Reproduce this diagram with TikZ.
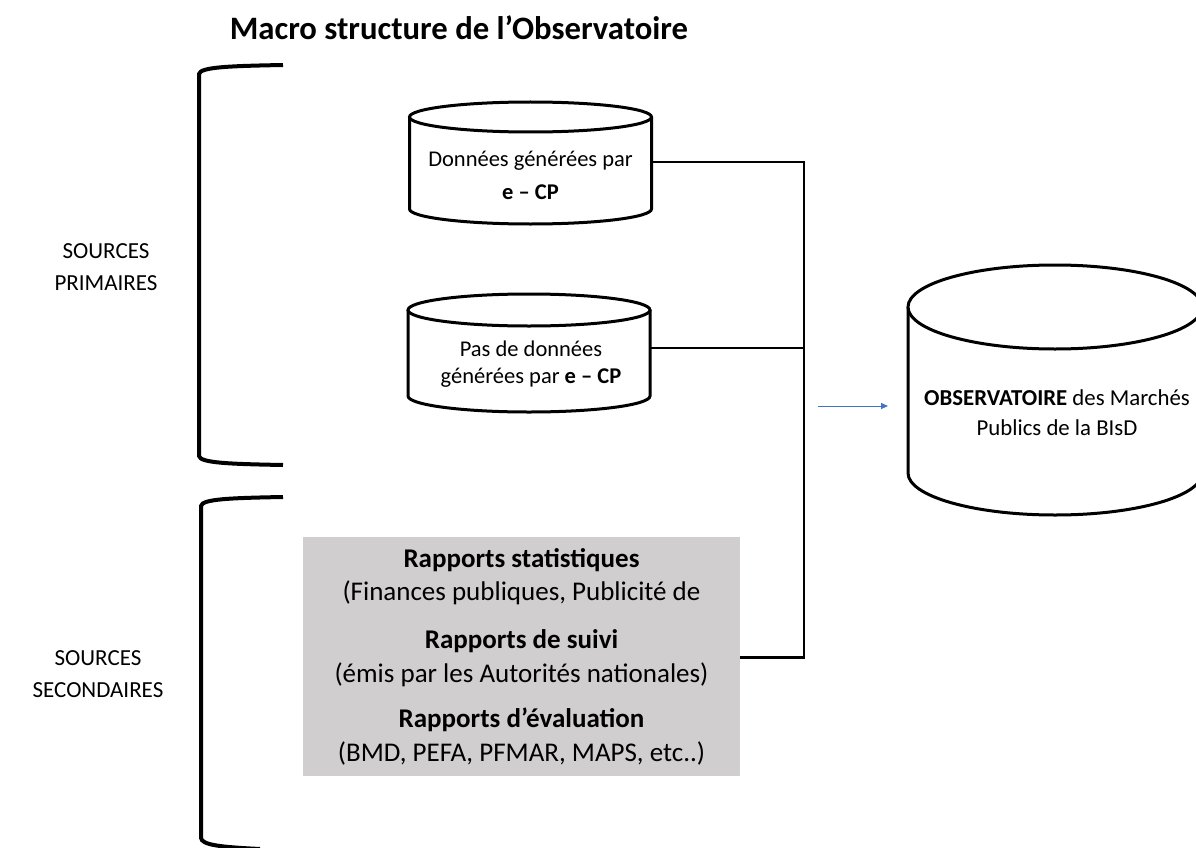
\documentclass[tikz,border=0pt]{standalone}
\usepackage{fontspec}
\setmainfont{Carlito}
\usetikzlibrary{arrows.meta,calc}
\definecolor{boxgray}{HTML}{D0CECE}
\definecolor{arrblue}{HTML}{4472C4}
\newcommand\cylsh[5]{% cx, ytop, ybot, rx, ry
  \draw[cylline] (#1-#4,#2) -- (#1-#4,#3) arc[start angle=180,end angle=360,x radius=#4pt,y radius=#5pt] -- (#1+#4,#2);
  \draw[cylline] (#1,#2) ellipse[x radius=#4pt,y radius=#5pt];}
\begin{document}
\begin{tikzpicture}[x=1pt,y=-1pt,
  cylline/.style={line width=3pt,fill=white},
  conn/.style={line width=1.5pt},
  brack/.style={line width=4pt},
  anch/.style={inner sep=0pt,minimum width=#1pt,minimum height=20pt},
  cyltext/.style={font=\fontsize{22.5}{26}\selectfont,inner sep=0pt},
  cylbold/.style={font=\fontsize{22.5}{26}\selectfont\bfseries,inner sep=0pt},
  lab/.style={font=\fontsize{23}{32}\selectfont,align=center,inner sep=0pt},
  otext/.style={font=\fontsize{22.8}{26}\selectfont,inner sep=0pt},
  gtext/.style={font=\fontsize{27}{30}\selectfont,inner sep=0pt},
  gbold/.style={font=\fontsize{27}{30}\selectfont\bfseries,inner sep=0pt}]
\clip (0,0) rectangle (1196,848);
\fill[white] (0,0) rectangle (1196,848);
% title
\node[font=\fontsize{32.7}{36}\selectfont\bfseries,inner sep=0pt] (title) at (459,28) {Macro structure de l’Observatoire};
% brackets
\draw[brack] (283,65) .. controls (230,66) and (200,67) .. (199,74) -- (199,456) .. controls (200,463) and (230,464) .. (283,465);
\draw[brack] (283,497) .. controls (230,498) and (202,499) .. (201,506) -- (201,838) .. controls (202,845) and (220,847) .. (260,849);
\node[lab] (sp) at (106,267) {SOURCES\\PRIMAIRES};
\node[lab] (ss) at (98,674) {SOURCES\\SECONDAIRES};
% cylinder 1
\cylsh{530.5}{117}{209}{121}{15}
\node[anch=242] (c1) at (530.5,162) {};
\node[cyltext] (t1a) at (530.5,161) {Données générées par};
\node[cylbold] (t1b) at (530.5,192) {e – CP};
% cylinder 2
\cylsh{529}{310}{396}{121}{16}
\node[anch=242] (c2) at (529,348) {};
\node[cyltext] (t2a) at (531,349) {Pas de données};
\node[cyltext] (t2b) at (531,378) {générées par \textbf{e – CP}};
% big cylinder
\cylsh{1055}{307}{473}{147}{42}
\node[otext] (oa) at (1057,398) {\textbf{OBSERVATOIRE} des Marchés};
\node[otext] (ob) at (1057,428) {Publics de la BIsD};
% gray box
\node[fill=boxgray,minimum width=437pt,minimum height=239pt,inner sep=0pt] (gray) at (521.5,656.5) {};
\node[gbold] (g1) at (521.5,560) {Rapports statistiques};
\node[gtext] (g2) at (521.5,593) {(Finances publiques, Publicité de};
\node[gbold] (g3) at (521.5,641) {Rapports de suivi};
\node[gtext] (g4) at (521.5,675) {(émis par les Autorités nationales)};
\node[gbold] (g5) at (521.5,720) {Rapports d’évaluation};
\node[gtext] (g6) at (521.5,753) {(BMD, PEFA, PFMAR, MAPS, etc..)};
% connectors
\coordinate (bt) at (804,161);
\coordinate (bb) at (804,657);
\draw[conn] (c1.east) -- (c1.east -| bt) -- (bb);
\draw[conn] (c2.east) -- (c2.east -| bt);
\draw[line width=3pt] (gray.east |- bb) -- ([xshift=0.75pt]bb);
% blue arrow
\coordinate (a1) at (818,406);
\coordinate (a2) at (888,406);
\draw[arrblue,line width=1pt,-{Triangle[length=7pt,width=6pt]}] (a1) -- (a2);
\end{tikzpicture}
\end{document}
